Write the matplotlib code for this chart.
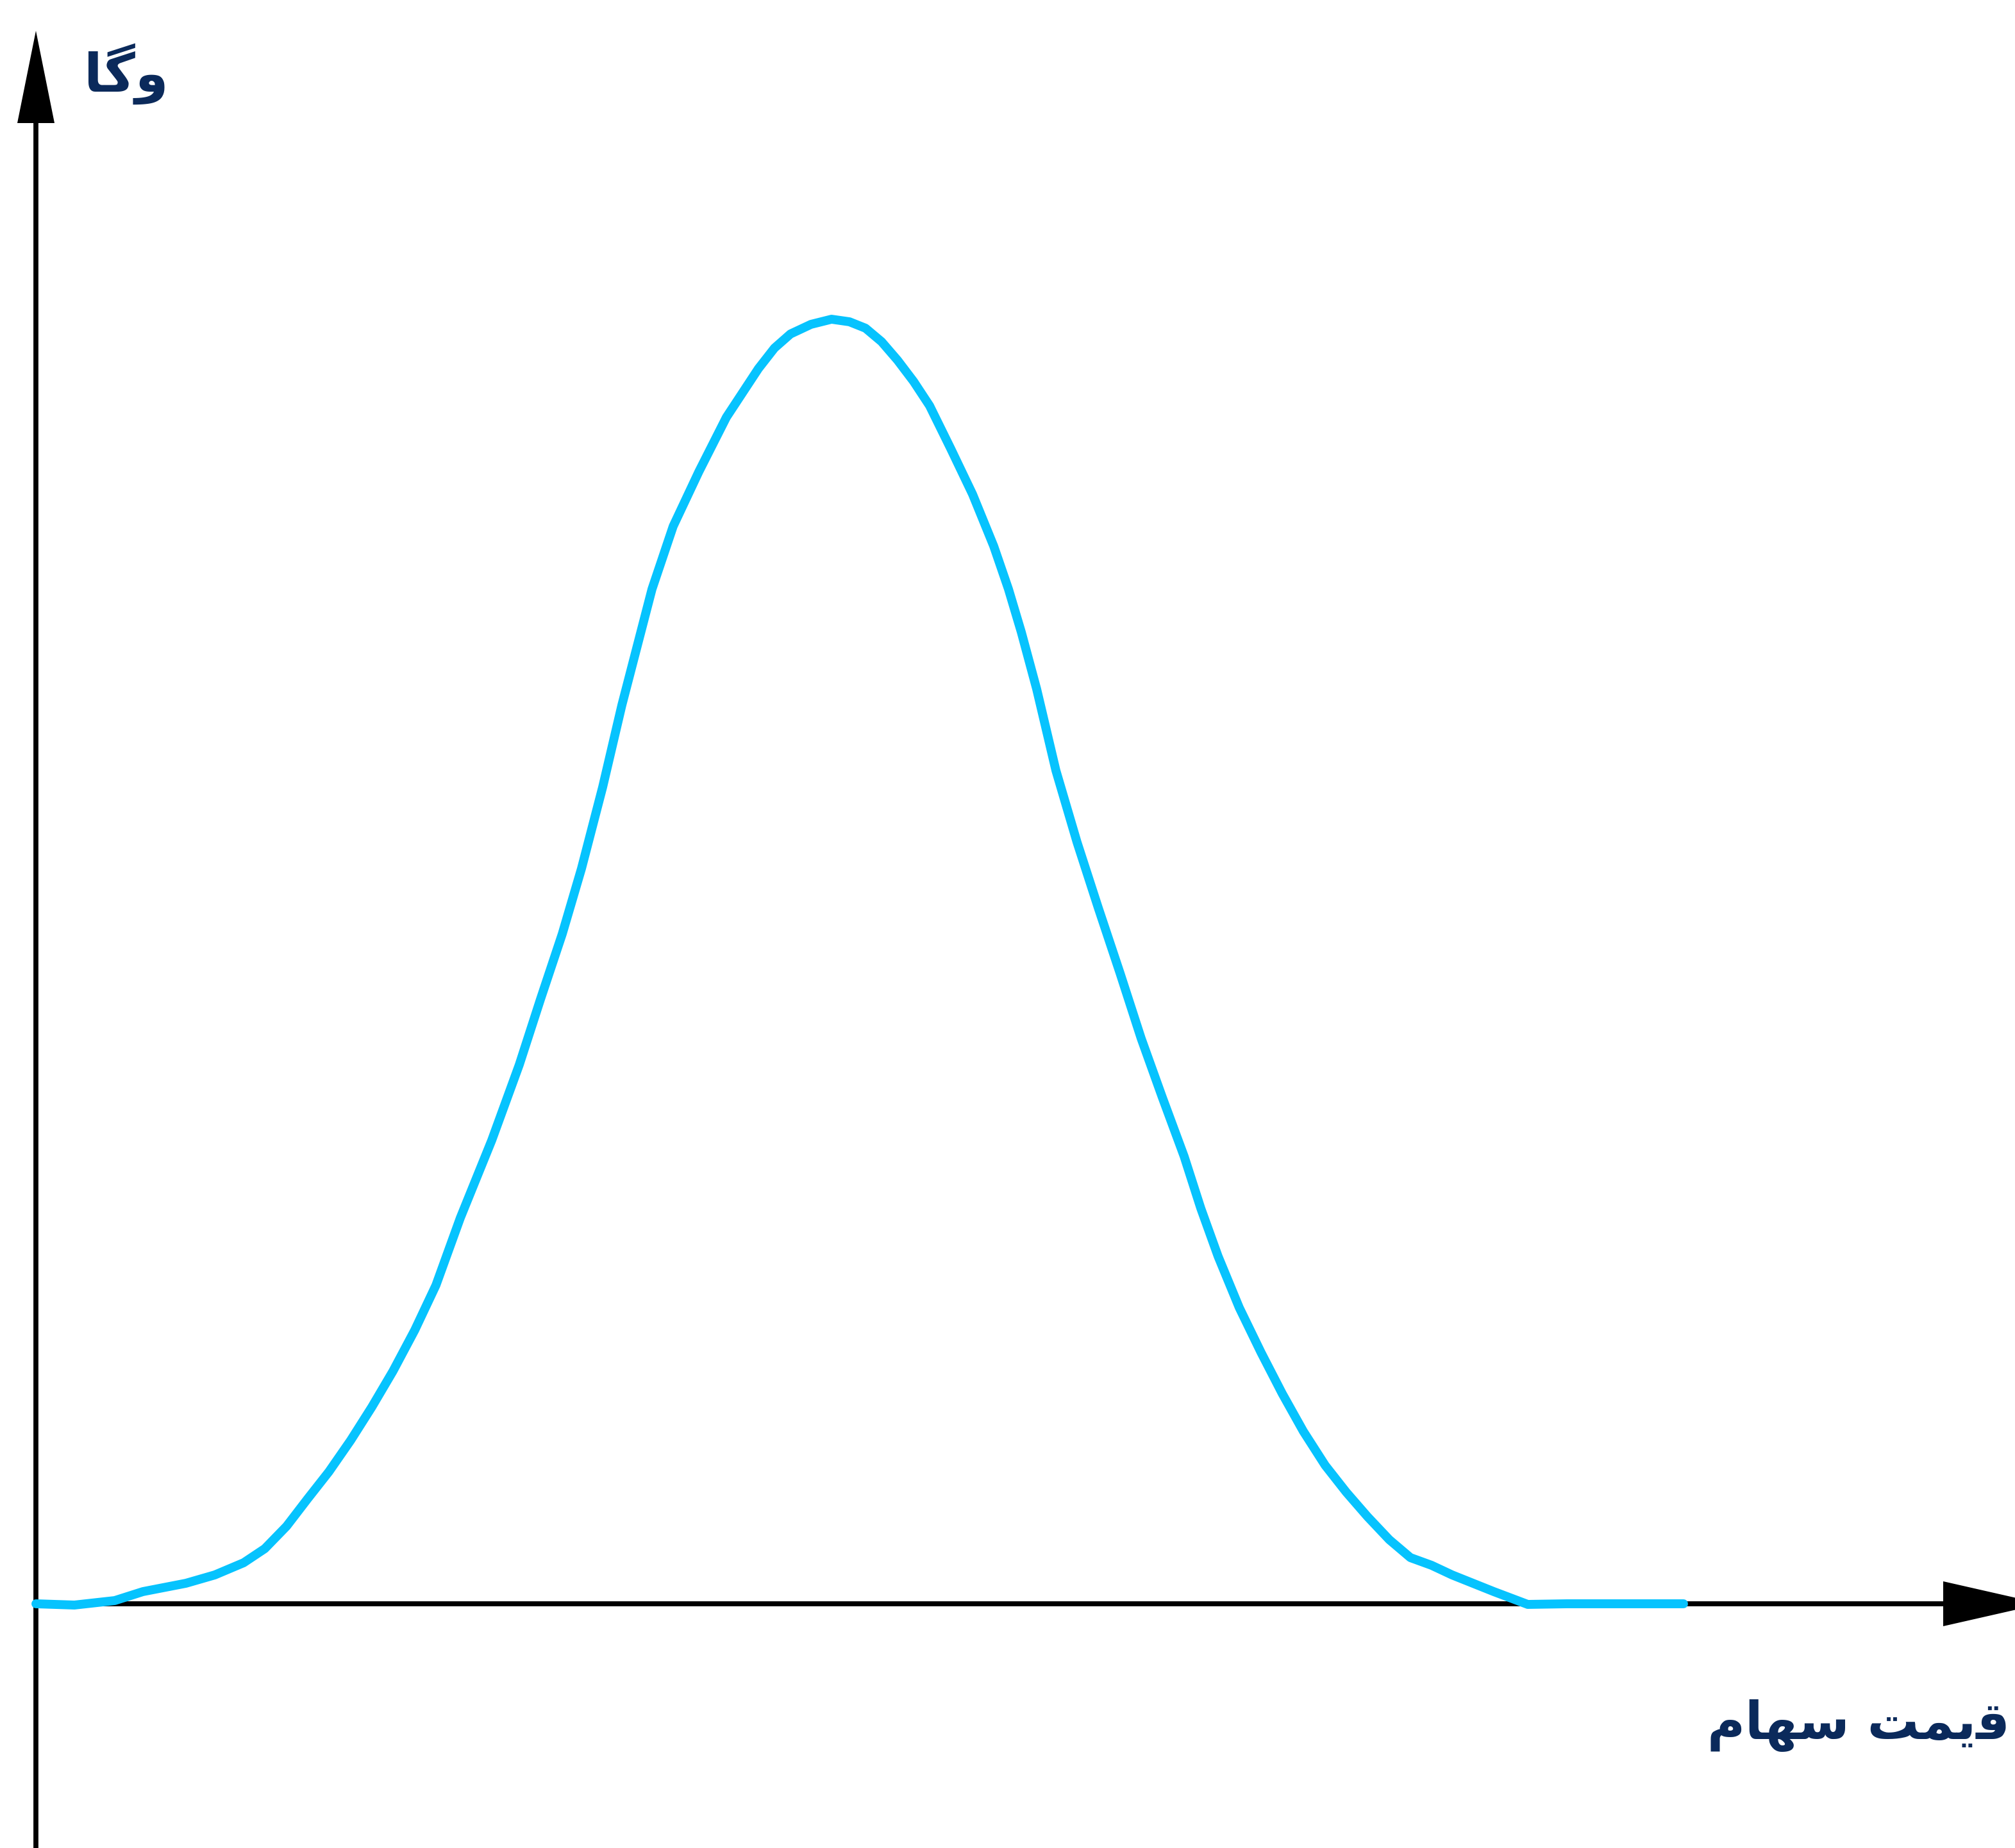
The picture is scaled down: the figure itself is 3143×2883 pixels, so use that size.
import matplotlib.pyplot as plt
from matplotlib.patches import Polygon

# stock price (x) and vega (y)
price = [0.0, 6.0, 12.3, 16.7, 23.4, 27.9, 32.4, 35.7, 39.1, 42.4,
         45.7, 49.1, 52.4, 55.7, 59.1, 62.4, 66.2, 71.1, 75.4, 78.7,
         82.1, 85.1, 88.4, 91.4, 96.1, 99.4, 103.4, 107.7, 112.7, 115.2,
         117.7, 120.9, 124.1, 126.9, 129.4, 131.9, 134.4, 136.9, 139.4, 142.7,
         146.1, 149.4, 151.7, 153.7, 156.1, 159.1, 162.4, 165.7, 169.1, 172.4,
         175.7, 179.1, 181.7, 184.4, 187.7, 191.1, 194.4, 197.7, 201.1, 204.4,
         207.7, 211.1, 214.4, 217.7, 220.9, 227.4, 232.7, 238.8, 257.0]
vega = [0.0, -0.2, 0.5, 1.9, 3.2, 4.5, 6.4, 8.6, 12.1, 16.4,
        20.6, 25.5, 30.7, 36.3, 42.7, 49.7, 60.2, 72.3, 84.1, 94.3,
        104.5, 114.7, 127.4, 140.2, 158.3, 168.1, 176.6, 185.1, 192.7, 195.9,
        198.1, 199.6, 200.4, 200.0, 199.0, 196.9, 194.0, 190.7, 186.9, 180.2,
        173.1, 165.0, 158.3, 151.6, 142.7, 130.0, 118.8, 108.6, 98.4, 88.2,
        79.0, 69.8, 61.7, 54.2, 46.2, 39.2, 32.8, 26.9, 21.6, 17.4,
        13.6, 10.0, 7.2, 6.0, 4.5, 1.9, -0.1, 0.0, 0.0]

# Persian labels, written with presentation forms in visual order
y_label = '\uFE8E\uFB94\uFEED'                                # وگا
x_label = '\uFEE1\uFE8E\uFEEC\uFEB3 \uFE96\uFEE4\uFBFE\uFED7'  # قیمت سهام

line_color = '#06C3FE'
text_color = '#0B2A5B'

fig = plt.figure(figsize=(31.43, 28.83), dpi=100)
ax = fig.add_axes([0, 0, 1, 1])
ax.set_xlim(-5.6, 308.7)
ax.set_ylim(-38.1, 250.2)
ax.axis('off')

# axes with arrow heads
ax.plot([0, 0], [-40, 231.0], color='black', lw=5.6, solid_capstyle='butt', zorder=2)
ax.plot([0, 297.5], [0, 0], color='black', lw=5.6, solid_capstyle='butt', zorder=2)
ax.add_patch(Polygon([(-2.9, 231.0), (2.9, 231.0), (0, 245.4)], closed=True,
                     facecolor='black', edgecolor='none', zorder=2))
ax.add_patch(Polygon([(297.5, -3.5), (297.5, 3.5), (312.9, 0)], closed=True,
                     facecolor='black', edgecolor='none', zorder=2))

ax.plot(price, vega, color=line_color, lw=10, solid_capstyle='round',
        solid_joinstyle='round', zorder=3)

ax.text(14.1, 238.7, y_label, family='DejaVu Sans', fontweight='bold',
        fontsize=60, color=text_color, ha='center', va='center')
ax.text(307.9, -19.0, x_label, family='DejaVu Sans', fontweight='bold',
        fontsize=58, color=text_color, ha='right', va='center')

fig.savefig('out.png', dpi=100, facecolor='white')
